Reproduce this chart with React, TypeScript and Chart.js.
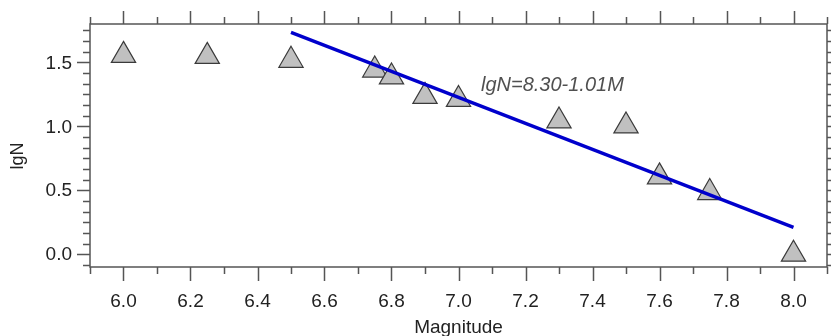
import { useEffect, useRef } from "react";
import { Chart, registerables } from "chart.js";

Chart.register(...registerables);

// ---- data ----
const magnitude = [6.0, 6.25, 6.5, 6.75, 6.8, 6.9, 7.0, 7.3, 7.5, 7.6, 7.75, 8.0];
const lgN = [1.555, 1.547, 1.516, 1.44, 1.386, 1.234, 1.21, 1.042, 1.003, 0.605, 0.482, 0.0];
const fitMagnitude = [6.5, 8.0];
const fitLgN = [1.735, 0.21];
const xTickLabels = [6.0, 6.2, 6.4, 6.6, 6.8, 7.0, 7.2, 7.4, 7.6, 7.8, 8.0];
const xMinorTicks = [5.9, 6.1, 6.3, 6.5, 6.7, 6.9, 7.1, 7.3, 7.5, 7.7, 7.9, 8.1];
const yTickLabels = [0.0, 0.5, 1.0, 1.5];
const xRange = [5.9, 8.1];
const yRange = [-0.1, 1.8];
const equationText = "lgN=8.30-1.01M";
const equationAt = { x: 7.067, y: 1.28 };
const xTitle = "Magnitude";
const yTitle = "lgN";

const FONT = "'Liberation Sans', Arial, sans-serif";
const AXIS_COLOR = "#555555";
const TEXT_COLOR = "#222222";

export default function App() {
  const ref = useRef<HTMLCanvasElement>(null);

  useEffect(() => {
    const canvas = ref.current;
    if (!canvas) return;

    const framePlugin = {
      id: "frameTicks",
      afterDraw(chart: any) {
        const { ctx, chartArea: a, scales } = chart;
        const xs = scales.x;
        const ys = scales.y;
        ctx.save();
        ctx.strokeStyle = AXIS_COLOR;
        ctx.lineWidth = 1.5;
        ctx.strokeRect(a.left, a.top, a.right - a.left, a.bottom - a.top);
        ctx.beginPath();
        xTickLabels.forEach((v) => {
          const px = Math.round(xs.getPixelForValue(v)) + 0.5;
          ctx.moveTo(px, a.bottom);
          ctx.lineTo(px, a.bottom + 14);
          ctx.moveTo(px, a.top);
          ctx.lineTo(px, a.top - 13);
        });
        xMinorTicks.forEach((v) => {
          const px = Math.round(xs.getPixelForValue(v)) + 0.5;
          ctx.moveTo(px, a.bottom);
          ctx.lineTo(px, a.bottom + 7);
          ctx.moveTo(px, a.top);
          ctx.lineTo(px, a.top - 7);
        });
        for (let k = -1; k < 100; k++) {
          const v = k / 12;
          if (v > ys.max) break;
          const py = Math.round(ys.getPixelForValue(v)) + 0.5;
          const major = k % 6 === 0;
          ctx.moveTo(a.left, py);
          ctx.lineTo(a.left - (major ? 13 : 7), py);
          ctx.moveTo(a.right, py);
          ctx.lineTo(a.right + 4, py);
        }
        ctx.stroke();

        // tick labels
        ctx.fillStyle = TEXT_COLOR;
        ctx.font = `19px ${FONT}`;
        ctx.textAlign = "center";
        ctx.textBaseline = "alphabetic";
        xTickLabels.forEach((v) => {
          ctx.fillText(v.toFixed(1), xs.getPixelForValue(v), a.bottom + 40);
        });
        ctx.textAlign = "right";
        ctx.textBaseline = "middle";
        yTickLabels.forEach((v) => {
          ctx.fillText(v.toFixed(1), a.left - 18, ys.getPixelForValue(v) + 1);
        });

        // equation label
        ctx.fillStyle = "#505050";
        ctx.font = `italic 20px ${FONT}`;
        ctx.textAlign = "left";
        ctx.textBaseline = "alphabetic";
        ctx.fillText(equationText, xs.getPixelForValue(equationAt.x), ys.getPixelForValue(equationAt.y));

        // axis titles
        ctx.fillStyle = TEXT_COLOR;
        ctx.font = `19px ${FONT}`;
        ctx.textAlign = "center";
        ctx.fillText(xTitle, (a.left + a.right) / 2, 333);
        ctx.translate(18, 156);
        ctx.rotate(-Math.PI / 2);
        ctx.font = `18px ${FONT}`;
        ctx.textBaseline = "middle";
        ctx.fillText(yTitle, 0, 0);
        ctx.restore();
      },
    };

    const chart = new Chart(canvas, {
      type: "scatter",
      data: {
        datasets: [
          {
            label: "fit",
            data: fitMagnitude.map((x, i) => ({ x, y: fitLgN[i] })),
            showLine: true,
            borderColor: "#0000cc",
            borderWidth: 3.4,
            pointRadius: 0,
            order: 0,
          },
          {
            label: "lgN",
            data: magnitude.map((x, i) => ({ x, y: lgN[i] })),
            pointStyle: "triangle",
            pointRadius: 14,
            backgroundColor: "#c0c0c0",
            borderColor: "#3a3a3a",
            borderWidth: 1.2,
            order: 1,
          },
        ],
      },
      options: {
        responsive: false,
        animation: false,
        events: [],
        layout: { autoPadding: false, padding: { top: 24, right: 4, left: 0, bottom: 0 } },
        plugins: { legend: { display: false }, tooltip: { enabled: false } },
        scales: {
          x: {
            type: "linear",
            position: "bottom",
            min: xRange[0],
            max: xRange[1],
            afterBuildTicks: (s: any) => {
              s.ticks = xTickLabels.map((v) => ({ value: v }));
            },
            afterFit: (s: any) => {
              s.height = 69;
            },
            grid: { display: false, drawTicks: false },
            border: { display: false },
            ticks: { display: false },
          },
          y: {
            type: "linear",
            position: "left",
            min: yRange[0],
            max: yRange[1],
            afterBuildTicks: (s: any) => {
              s.ticks = yTickLabels.map((v) => ({ value: v }));
            },
            afterFit: (s: any) => {
              s.width = 90;
            },
            grid: { display: false, drawTicks: false },
            border: { display: false },
            ticks: { display: false },
          },
        },
      },
      plugins: [framePlugin],
    });

    return () => chart.destroy();
  }, []);

  return (
    <div style={{ position: "absolute", left: 0, top: 0, width: 831, height: 336, background: "#fff" }}>
      <canvas ref={ref} width={831} height={336} style={{ display: "block" }} />
    </div>
  );
}
